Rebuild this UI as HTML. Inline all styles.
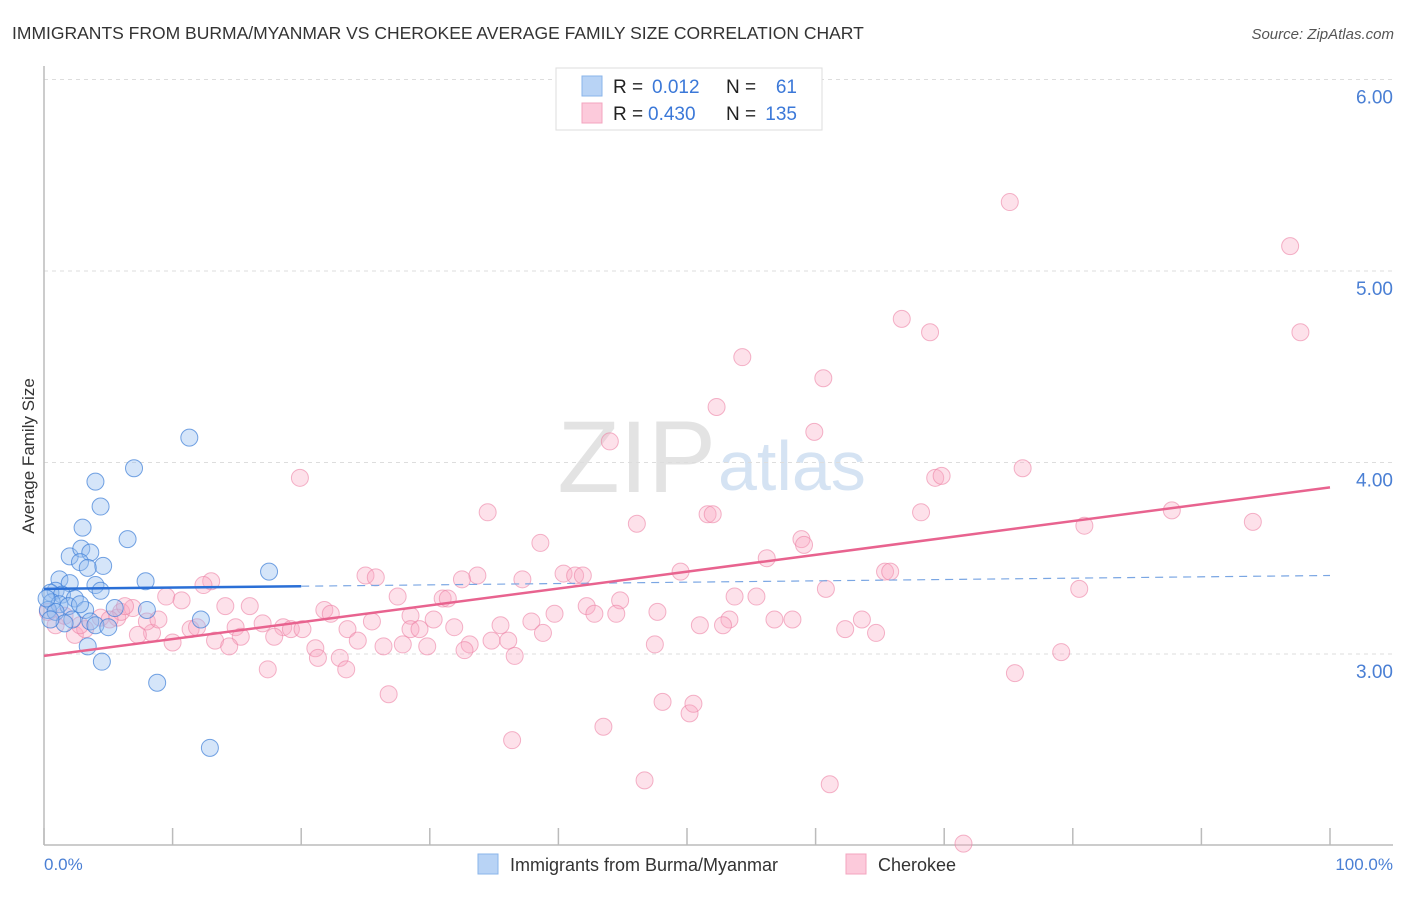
<!DOCTYPE html>
<html><head><meta charset="utf-8">
<style>
body{margin:0;background:#fff;font-family:"Liberation Sans",sans-serif;}
svg text{font-family:"Liberation Sans",sans-serif;}
</style></head>
<body>
<svg id="chart" width="1406" height="892" viewBox="0 0 1406 892" xmlns="http://www.w3.org/2000/svg">
<text x="12" y="39" font-size="17.5" fill="#333">IMMIGRANTS FROM BURMA/MYANMAR VS CHEROKEE AVERAGE FAMILY SIZE CORRELATION CHART</text>
<text x="1394" y="39" font-size="15" fill="#555" font-style="italic" text-anchor="end">Source: ZipAtlas.com</text>
<text x="716" y="492" font-size="102" fill="#e3e3e3" text-anchor="end" font-family="Liberation Serif">ZIP</text>
<text x="718" y="490" font-size="70" fill="#d5e3f3">atlas</text>
<g id="grid"></g>
<g id="axes"></g>
<g id="pinkpts"></g>
<g id="bluepts"></g>
<g id="trends"></g>
<text transform="translate(34,456) rotate(-90)" font-size="17" fill="#333" text-anchor="middle">Average Family Size</text>
<text x="44" y="870" font-size="17" fill="#4a7fd4">0.0%</text>
<text x="1393" y="870" font-size="17" fill="#4a7fd4" text-anchor="end">100.0%</text>
<g>
<rect x="556" y="68" width="266" height="62" fill="#fff" stroke="#ddd"/>
<rect x="582" y="76" width="20" height="20" fill="#b8d3f5" stroke="#8ab4ea"/>
<rect x="582" y="103" width="20" height="20" fill="#fccadb" stroke="#f3a4bf"/>
<text x="613" y="93" font-size="19" fill="#222">R = </text><text x="652" y="93" font-size="19" fill="#3b78d8">0.012</text>
<text x="726" y="93" font-size="19" fill="#222">N = </text><text x="797" y="93" font-size="19" fill="#3b78d8" text-anchor="end">61</text>
<text x="613" y="120" font-size="19" fill="#222">R = </text><text x="648" y="120" font-size="19" fill="#3b78d8">0.430</text>
<text x="726" y="120" font-size="19" fill="#222">N = </text><text x="797" y="120" font-size="19" fill="#3b78d8" text-anchor="end">135</text>
</g>
<g>
<rect x="478" y="854" width="20" height="20" fill="#b8d3f5" stroke="#8ab4ea"/>
<text x="510" y="871" font-size="18" fill="#333">Immigrants from Burma/Myanmar</text>
<rect x="846" y="854" width="20" height="20" fill="#fccadb" stroke="#f3a4bf"/>
<text x="878" y="871" font-size="18" fill="#333">Cherokee</text>
</g>
</svg>
<script>
const yTicks=[3,4,5,6];
const yTickLabels=["3.00","4.00","5.00","6.00"];
const blueX=[11.3,7.0,4.0,4.4,3.0,6.5,2.0,2.9,3.6,4.6,17.5,7.9,2.8,3.4,1.2,2.0,4.0,4.4,0.9,0.5,1.4,2.4,0.6,1.2,1.9,0.3,0.9,3.2,5.5,8.0,12.2,2.2,3.6,4.0,5.0,1.6,3.4,4.5,8.8,12.9,2.8,0.2,0.5];
const blueY=[4.13,3.97,3.90,3.77,3.66,3.60,3.51,3.55,3.53,3.46,3.43,3.38,3.48,3.45,3.39,3.37,3.36,3.33,3.33,3.32,3.31,3.29,3.27,3.26,3.25,3.23,3.22,3.23,3.24,3.23,3.18,3.18,3.17,3.15,3.14,3.16,3.04,2.96,2.85,2.51,3.26,3.29,3.18];
const pinkX=[75.1,96.9,97.7,66.7,68.9,54.3,60.6,52.3,59.9,44.0,19.9,76.1,69.3,69.8,34.5,51.6,52.0,68.2,87.7,94.0,46.1,80.9,38.6,58.9,59.1,56.2,49.5,65.4,65.8,25.0,25.8,33.7,32.5,37.2,40.4,41.3,41.9,13.0,12.4,60.8,80.5,9.5,10.7,27.5,31.0,31.4,44.8,53.7,55.4,14.1,16.0,21.8,22.3,42.2,42.8,44.5,47.7,39.7,35.5,37.9,28.5,30.3,53.3,51.0,56.8,58.2,63.6,62.3,64.7,52.8,23.6,25.5,28.5,29.2,31.9,34.8,36.1,38.8,33.1,14.9,17.0,18.6,17.9,19.2,20.1,15.3,13.3,14.4,11.4,11.9,8.4,7.3,8.0,8.9,5.7,6.0,6.9,6.3,10.0,21.1,24.4,26.4,27.9,29.8,32.7,36.6,47.5,21.3,23.0,23.5,17.4,75.5,79.1,26.8,48.1,50.2,50.5,43.5,36.4,46.7,61.1,71.5,0.9,2.4,1.6,3.2,4.4,5.1,2.8,0.3];
const pinkY=[5.36,5.13,4.68,4.75,4.68,4.55,4.44,4.29,4.16,4.11,3.92,3.97,3.92,3.93,3.74,3.73,3.73,3.74,3.75,3.69,3.68,3.67,3.58,3.60,3.57,3.50,3.43,3.43,3.43,3.41,3.40,3.41,3.39,3.39,3.42,3.41,3.41,3.38,3.36,3.34,3.34,3.30,3.28,3.30,3.29,3.29,3.28,3.30,3.30,3.25,3.25,3.23,3.21,3.25,3.21,3.21,3.22,3.21,3.15,3.17,3.20,3.18,3.18,3.15,3.18,3.18,3.18,3.13,3.11,3.15,3.13,3.17,3.13,3.13,3.14,3.07,3.07,3.11,3.05,3.14,3.16,3.14,3.09,3.13,3.13,3.09,3.07,3.04,3.13,3.14,3.11,3.10,3.17,3.18,3.19,3.22,3.24,3.25,3.06,3.03,3.07,3.04,3.05,3.04,3.02,2.99,3.05,2.98,2.98,2.92,2.92,2.90,3.01,2.79,2.75,2.69,2.74,2.62,2.55,2.34,2.32,2.01,3.15,3.10,3.20,3.13,3.19,3.18,3.15,3.22];
const blueTrend=[3.34,3.41];
const pinkTrend=[2.99,3.87];
const X0=44,X1=1330,Y3=654,PXU=191.5;
const xs=p=>X0+p*(X1-X0)/100;
const ys=v=>Y3-(v-3)*PXU;
const NS="http://www.w3.org/2000/svg";
function mk(tag,attrs,parent){const e=document.createElementNS(NS,tag);for(const k in attrs)e.setAttribute(k,attrs[k]);parent.appendChild(e);return e;}
const grid=document.getElementById('grid');
yTicks.forEach((t,i)=>{
 const l=mk('line',{x1:44,x2:1393,y1:ys(t),y2:ys(t),stroke:'#ddd','stroke-dasharray':'4,4'},grid);
 
 
 const tx=mk('text',{x:1393,y:ys(t)+24,'font-size':19,fill:'#4a7fd4','text-anchor':'end'},grid);
 tx.textContent=yTickLabels[i];
 
 
});
const axes=document.getElementById('axes');
const ya=mk('line',{x1:44,x2:44,y1:66,y2:845,stroke:'#bbb','stroke-width':1.5},axes);


const xa=mk('line',{x1:44,x2:1393,y1:845,y2:845,stroke:'#bbb','stroke-width':1.5},axes);


for(let i=0;i<=10;i++){
 const tk=mk('line',{x1:xs(i*10),x2:xs(i*10),y1:828,y2:845,stroke:'#bbb','stroke-width':1.5},axes);
 
 
}
const pg=document.getElementById('pinkpts');
pinkX.forEach((p,i)=>{
 const c=mk('circle',{cx:xs(p),cy:ys(pinkY[i]),r:8.5,fill:'rgba(248,170,196,0.35)',stroke:'rgba(236,130,165,0.6)','stroke-width':1},pg);
 
 
});
const bg=document.getElementById('bluepts');
blueX.forEach((p,i)=>{
 const c=mk('circle',{cx:xs(p),cy:ys(blueY[i]),r:8.5,fill:'rgba(150,190,240,0.4)',stroke:'rgba(60,125,215,0.7)','stroke-width':1},bg);
 
 
});
const tg=document.getElementById('trends');
const bAt=p=>blueTrend[0]+(blueTrend[1]-blueTrend[0])*p/100;
const b1=mk('line',{x1:xs(0),y1:ys(bAt(0)),x2:xs(20),y2:ys(bAt(20)),stroke:'#2a6fd6','stroke-width':2.5},tg);


const b2=mk('line',{x1:xs(20),y1:ys(bAt(20)),x2:xs(100),y2:ys(bAt(100)),stroke:'#7aa6e3','stroke-width':1.2,'stroke-dasharray':'8,6'},tg);


const p1=mk('line',{x1:xs(0),y1:ys(pinkTrend[0]),x2:xs(100),y2:ys(pinkTrend[1]),stroke:'#e8638f','stroke-width':2.5},tg);


</script>
</body></html>
